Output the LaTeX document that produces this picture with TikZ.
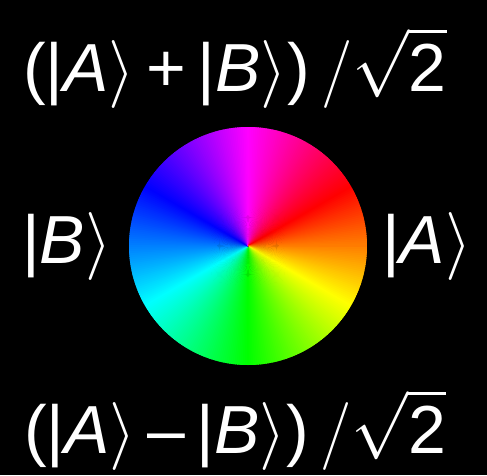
\RequirePackage{fix-cm}
\documentclass[tikz,border=0pt]{standalone}
\usepackage{amsmath}
\usepackage{amssymb}
\usepackage{fontspec}
\setmainfont{Liberation Sans}
\usepackage{tikz}
\usepackage{xcolor}

\tikzset{
  ketlabel/.style={text=white, inner sep=0pt, anchor=base,
    font=\fontsize{68}{78}\selectfont}
}
\newcommand{\ketof}[1]{|\textit{#1}$\rangle$}

\begin{document}
\begin{tikzpicture}[x=1pt, y=-1pt]
\fill[black] (0,0) rectangle (487,475);
\useasboundingbox (0,0) rectangle (487,475);
\coordinate (wheel) at (248,246);
% phase wheel, hue runs clockwise, red at 30 degrees
\foreach \a in {0,...,359}{
  \pgfmathtruncatemacro\h{mod(\a+30,360)}
  \definecolor{wedgecol}{Hsb}{\h,1,1}
  \fill[wedgecol] (wheel) -- ++(\a-0.4:119) arc[start angle=\a-0.4, end angle=\a+1.4, radius=119] -- cycle;
}
\node[ketlabel] (plus) at (235,91) {(\ketof{A}\,+\,\ketof{B})$\,/\sqrt{\text{2}}$};
\node[ketlabel] (ketB) at (67,263) {\ketof{B}};
\node[ketlabel] (ketA) at (427,263) {\ketof{A}};
\node[ketlabel] (minus) at (235,453) {(\ketof{A}\,–\,\ketof{B})$\,/\sqrt{\text{2}}$};
\end{tikzpicture}
\end{document}
